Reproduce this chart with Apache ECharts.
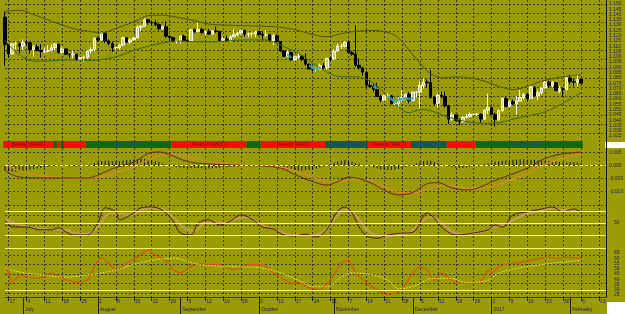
<!DOCTYPE html>
<html><head><meta charset="utf-8">
<script src="https://cdn.jsdelivr.net/npm/echarts/dist/echarts.min.js"></script>
<style>html,body{margin:0;padding:0;background:#9b9b05;}#c{width:625px;height:314px;}</style>
</head><body><div id="c"></div>
<script>
// ---- categories (trading days) ----
const jun16=[24,27,28,29,30];
const jul16=[1,4,5,6,7,8,11,12,13,14,15,18,19,20,21,22,25,26,27,28,29];
const aug16=[1,2,3,4,5,8,9,10,11,12,15,16,17,18,19,22,23,24,25,26,29,30,31];
const sep16=[1,2,5,6,7,8,9,12,13,14,15,16,19,20,21,22,23,26,27,28,29,30];
const oct16=[3,4,5,6,7,10,11,12,13,14,17,18,19,20,21,24,25,26,27,28,31];
const nov16=[1,2,3,4,7,8,9,10,11,14,15,16,17,18,21,22,23,24,25,28,29,30];
const dec16=[1,2,5,6,7,8,9,12,13,14,15,16,19,20,21,22,23,26,27,28,29,30];
const jan17=[2,3,4,5,6,9,10,11,12,13,16,17,18,19,20,23,24,25,26,27,30,31];
const feb17=[1,2,3,6,7,8,9,10,13,14,15];

// ---- tick labels ----
const weekTicks=[[1,'27'],[6,'4'],[11,'11'],[16,'18'],[21,'25'],[26,'1'],[31,'8'],[36,'15'],[41,'22'],[46,'29'],[51,'5'],[56,'12'],[61,'19'],[66,'26'],[71,'3'],[76,'10'],[81,'17'],[86,'24'],[91,'31'],[96,'7'],[101,'14'],[106,'21'],[111,'28'],[116,'5'],[121,'12'],[126,'19'],[131,'26'],[136,'2'],[141,'9'],[146,'16'],[151,'23'],[156,'30'],[161,'6'],[166,'13']];
const monthTicks=[[5,'July'],[26,'August'],[49,'September'],[71,'October'],[92,'November'],[114,'December'],[136,'2017'],[158,'February']];

// ---- price candles [open, close, low, high] ----
const candles=[
[1.1376,1.1117,1.0912,1.1427],[1.1117,1.1027,1.0990,1.1110],[1.1027,1.1122,1.1020,1.1127],[1.1122,1.1123,1.1070,1.1143],[1.1123,1.1103,1.1030,1.1140],
[1.1103,1.1135,1.1060,1.1165],[1.1135,1.1133,1.1105,1.1160],[1.1133,1.1070,1.1030,1.1140],[1.1070,1.1094,1.1000,1.1110],[1.1094,1.1060,1.1050,1.1120],
[1.1060,1.1050,1.0995,1.1120],[1.1050,1.1052,1.1030,1.1085],[1.1052,1.1061,1.1040,1.1110],[1.1061,1.1088,1.1060,1.1120],[1.1088,1.1120,1.1060,1.1130],
[1.1120,1.1040,1.1030,1.1125],[1.1040,1.1075,1.1030,1.1090],[1.1075,1.1025,1.1015,1.1080],[1.1025,1.1020,1.0990,1.1035],[1.1020,1.1025,1.0985,1.1060],
[1.1025,1.0975,1.0960,1.1030],[1.0975,1.0992,1.0970,1.1000],[1.0992,1.0995,1.0955,1.1010],[1.0995,1.1056,1.0980,1.1060],[1.1056,1.1069,1.1030,1.1090],
[1.1069,1.1174,1.1050,1.1185],[1.1174,1.1160,1.1150,1.1190],[1.1160,1.1225,1.1150,1.1235],[1.1225,1.1150,1.1130,1.1230],[1.1150,1.1125,1.1110,1.1165],
[1.1125,1.1085,1.1045,1.1145],[1.1085,1.1087,1.1065,1.1095],[1.1087,1.1111,1.1070,1.1125],[1.1111,1.1180,1.1100,1.1185],[1.1180,1.1140,1.1130,1.1185],
[1.1140,1.1160,1.1120,1.1175],[1.1160,1.1180,1.1150,1.1190],[1.1180,1.1280,1.1175,1.1300],[1.1280,1.1290,1.1245,1.1300],[1.1290,1.1350,1.1285,1.1366],
[1.1350,1.1325,1.1305,1.1355],[1.1325,1.1320,1.1290,1.1340],[1.1320,1.1307,1.1290,1.1350],[1.1307,1.1265,1.1250,1.1315],[1.1265,1.1285,1.1255,1.1295],
[1.1285,1.1196,1.1180,1.1340],[1.1196,1.1183,1.1150,1.1200],[1.1183,1.1146,1.1140,1.1190],[1.1146,1.1155,1.1125,1.1160],[1.1155,1.1195,1.1125,1.1200],
[1.1195,1.1155,1.1150,1.1210],[1.1155,1.1150,1.1135,1.1170],[1.1150,1.1255,1.1140,1.1265],[1.1255,1.1240,1.1225,1.1270],[1.1240,1.1260,1.1235,1.1325],
[1.1260,1.1230,1.1215,1.1275],[1.1230,1.1240,1.1205,1.1250],[1.1240,1.1215,1.1210,1.1265],[1.1215,1.1245,1.1210,1.1255],[1.1245,1.1240,1.1225,1.1285],
[1.1240,1.1155,1.1150,1.1245],[1.1155,1.1170,1.1150,1.1190],[1.1170,1.1155,1.1150,1.1200],[1.1155,1.1190,1.1140,1.1205],[1.1190,1.1210,1.1185,1.1260],
[1.1210,1.1225,1.1195,1.1240],[1.1225,1.1250,1.1210,1.1255],[1.1250,1.1213,1.1190,1.1260],[1.1213,1.1218,1.1185,1.1230],[1.1218,1.1220,1.1190,1.1240],
[1.1220,1.1240,1.1185,1.1245],[1.1240,1.1210,1.1200,1.1245],[1.1210,1.1205,1.1155,1.1240],[1.1205,1.1210,1.1185,1.1250],[1.1210,1.1155,1.1140,1.1215],
[1.1155,1.1200,1.1110,1.1215],[1.1200,1.1145,1.1135,1.1210],[1.1145,1.1055,1.1045,1.1150],[1.1055,1.1005,1.0995,1.1065],[1.1005,1.1040,1.1000,1.1060],
[1.1040,1.0970,1.0965,1.1050],[1.0970,1.1000,1.0960,1.1005],[1.1000,1.1005,1.0975,1.1035],[1.1005,1.0975,1.0960,1.1015],[1.0975,1.0930,1.0915,1.1035],
[1.0930,1.0885,1.0880,1.0935],[1.0885,1.0880,1.0860,1.0905],[1.0880,1.0880,1.0860,1.0900],[1.0880,1.0915,1.0870,1.0935],[1.0915,1.0895,1.0890,1.0940],
[1.0895,1.0985,1.0880,1.0990],[1.0985,1.0980,1.0955,1.0995],[1.0980,1.1055,1.0970,1.1070],[1.1055,1.1100,1.1050,1.1125],[1.1100,1.1100,1.1075,1.1125],
[1.1100,1.1140,1.1090,1.1145],[1.1140,1.1040,1.1030,1.1145],[1.1040,1.1025,1.1010,1.1055],[1.1025,1.0920,1.0905,1.1299],[1.0920,1.0895,1.0880,1.0985],
[1.0895,1.0855,1.0820,1.0905],[1.0855,1.0730,1.0710,1.0865],[1.0730,1.0720,1.0710,1.0780],[1.0720,1.0690,1.0665,1.0745],[1.0690,1.0625,1.0620,1.0755],
[1.0625,1.0590,1.0570,1.0640],[1.0590,1.0630,1.0580,1.0640],[1.0630,1.0630,1.0610,1.0655],[1.0630,1.0555,1.0550,1.0640],[1.0555,1.0555,1.0540,1.0580],
[1.0555,1.0590,1.0520,1.0615],[1.0590,1.0615,1.0575,1.0685],[1.0615,1.0645,1.0600,1.0655],[1.0645,1.0585,1.0560,1.0665],[1.0585,1.0665,1.0580,1.0670],
[1.0665,1.0665,1.0615,1.0675],[1.0665,1.0730,1.0505,1.0775],[1.0730,1.0760,1.0700,1.0795],[1.0760,1.0755,1.0715,1.0785],[1.0755,1.0615,1.0605,1.0874],
[1.0615,1.0560,1.0545,1.0630],[1.0560,1.0635,1.0520,1.0650],[1.0635,1.0625,1.0610,1.0670],[1.0625,1.0535,1.0520,1.0670],[1.0535,1.0410,1.0365,1.0545],
[1.0410,1.0450,1.0395,1.0475],[1.0450,1.0400,1.0390,1.0460],[1.0400,1.0385,1.0352,1.0415],[1.0385,1.0425,1.0375,1.0445],[1.0425,1.0435,1.0420,1.0460],
[1.0435,1.0455,1.0425,1.0470],[1.0455,1.0455,1.0445,1.0465],[1.0455,1.0455,1.0440,1.0470],[1.0455,1.0410,1.0375,1.0465],[1.0410,1.0495,1.0405,1.0500],
[1.0495,1.0520,1.0460,1.0650],[1.0520,1.0455,1.0450,1.0530],[1.0455,1.0405,1.0340,1.0470],[1.0405,1.0490,1.0395,1.0500],[1.0490,1.0605,1.0480,1.0615],
[1.0605,1.0530,1.0525,1.0620],[1.0530,1.0575,1.0520,1.0590],[1.0575,1.0555,1.0545,1.0595],[1.0555,1.0580,1.0455,1.0630],[1.0580,1.0615,1.0580,1.0685],
[1.0615,1.0645,1.0590,1.0655],[1.0645,1.0605,1.0580,1.0630],[1.0605,1.0715,1.0600,1.0720],[1.0715,1.0630,1.0625,1.0710],[1.0630,1.0660,1.0590,1.0680],
[1.0660,1.0705,1.0640,1.0710],[1.0705,1.0760,1.0700,1.0775],[1.0760,1.0730,1.0710,1.0775],[1.0730,1.0755,1.0710,1.0770],[1.0755,1.0680,1.0675,1.0760],
[1.0680,1.0695,1.0655,1.0725],[1.0695,1.0690,1.0620,1.0705],[1.0690,1.0800,1.0680,1.0810],[1.0800,1.0765,1.0740,1.0830],[1.0765,1.0760,1.0720,1.0790],
[1.0760,1.0785,1.0715,1.0830],[1.0785,1.0750,1.0745,1.0795]
];

// ---- Bollinger-type envelope [barIndex, price] ----
const upperBand=[[0,1.1430],[4,1.1440],[8,1.1400],[12,1.1350],[16,1.1300],[20,1.1260],[23,1.1245],[27,1.1225],[31,1.1270],[36,1.1330],[40,1.1390],[44,1.1395],[48,1.1375],[52,1.1350],[57,1.1310],[62,1.1300],[67,1.1295],[72,1.1290],[77,1.1280],[82,1.1250],[86,1.1210],[90,1.1190],[94,1.1220],[98,1.1240],[103,1.1250],[107,1.1230],[110,1.1180],[113,1.1060],[116,1.0940],[119,1.0840],[122,1.0800],[126,1.0810],[130,1.0800],[134,1.0770],[138,1.0720],[142,1.0690],[146,1.0720],[150,1.0770],[154,1.0800],[158,1.0820],[161,1.0830]];
const lowerBand=[[0,1.1150],[4,1.1020],[8,1.0960],[12,1.0960],[16,1.0970],[20,1.0970],[24,1.0965],[28,1.0980],[32,1.1010],[36,1.1060],[40,1.1100],[44,1.1130],[48,1.1150],[52,1.1145],[57,1.1140],[62,1.1150],[67,1.1160],[72,1.1160],[76,1.1130],[79,1.1080],[82,1.1036],[86,1.0940],[90,1.0856],[94,1.0810],[98,1.0810],[103,1.0750],[107,1.0620],[110,1.0525],[113,1.0470],[116,1.0500],[119,1.0490],[122,1.0450],[126,1.0410],[130,1.0380],[134,1.0370],[138,1.0375],[142,1.0410],[146,1.0440],[150,1.0468],[154,1.0525],[158,1.0600],[161,1.0660]];
const cyanSegs=[
 [[79,1.1020],[80,1.0990]],
 [[85,1.0920],[86,1.0895],[87,1.0885],[88,1.0890]],
 [[103,1.0720],[104,1.0700]],
 [[107,1.0630],[108,1.0600],[109,1.0580],[110,1.0590],[111,1.0600],[112,1.0610],[113,1.0600],[114,1.0610]]
];

// ---- signal strip [startBar, endBar, state 0=bear 1=bull 2=bull(teal)] ----
const bandSegs=[[0,13,0],[14,14,1],[15,15,0],[16,16,1],[17,22,0],[23,46,1],[47,67,0],[68,71,1],[72,89,0],[90,101,2],[102,113,0],[114,123,2],[124,131,0],[132,161,1]];
const bandText=['Bearish MACD','Bullish MACD','Bullish MACD'];

// ---- MACD panel ----
const macdHist=[
-0.0020,-0.0022,-0.0024,-0.0024,-0.0022,-0.0020,-0.0018,-0.0016,-0.0014,-0.0012,-0.0010,-0.0008,-0.0006,-0.0003,
0.0001,-0.0001,0.0001,
-0.0002,-0.0003,-0.0003,-0.0004,-0.0003,-0.0001,
0.0002,0.0005,0.0010,0.0014,0.0017,0.0018,0.0018,0.0016,0.0016,0.0017,0.0019,0.0020,0.0021,0.0023,0.0025,0.0026,0.0025,0.0023,0.0020,0.0017,0.0013,0.0009,0.0005,0.0002,
-0.0002,-0.0005,-0.0008,-0.0010,-0.0011,-0.0011,-0.0010,-0.0010,-0.0011,-0.0012,-0.0012,-0.0011,-0.0010,-0.0009,-0.0008,-0.0007,-0.0006,-0.0005,-0.0004,-0.0003,-0.0001,
0.0001,0.0002,0.0002,0.0001,
-0.0001,-0.0002,-0.0003,-0.0005,-0.0007,-0.0010,-0.0013,-0.0015,-0.0017,-0.0018,-0.0019,-0.0019,-0.0018,-0.0017,-0.0015,-0.0012,-0.0008,-0.0004,
0.0002,0.0006,0.0011,0.0016,0.0019,0.0021,0.0018,0.0014,0.0010,0.0007,0.0004,0.0001,
-0.0003,-0.0007,-0.0011,-0.0014,-0.0016,-0.0017,-0.0017,-0.0015,-0.0013,-0.0010,-0.0006,-0.0002,
0.0003,0.0008,0.0013,0.0017,0.0019,0.0018,0.0014,0.0010,0.0006,0.0002,
-0.0002,-0.0005,-0.0008,-0.0010,-0.0010,-0.0008,-0.0005,-0.0002,
0.0001,0.0003,0.0005,0.0008,0.0011,0.0014,0.0016,0.0018,0.0020,0.0021,0.0022,0.0023,0.0024,0.0024,0.0023,0.0022,0.0021,0.0020,0.0019,0.0018,0.0016,0.0015,0.0014,0.0013,0.0012,0.0012,0.0013,0.0013,0.0012,0.0011
];
const macdLine=[[0,-0.0017],[1,-0.0029],[4,-0.0044],[10,-0.0048],[17,-0.0048],[23,-0.0048],[26,-0.0037],[30,-0.0012],[36,0.0013],[40,0.0046],[43,0.0052],[46,0.0042],[51,0.0015],[57,0.0006],[62,0.0003],[67,0.0000],[72,-0.0002],[77,-0.0010],[81,-0.0035],[86,-0.0062],[90,-0.0075],[93,-0.0062],[96,-0.0045],[99,-0.0050],[103,-0.0072],[107,-0.0102],[110,-0.0113],[114,-0.0104],[118,-0.0070],[121,-0.0066],[125,-0.0086],[129,-0.0094],[132,-0.0088],[136,-0.0063],[141,-0.0037],[146,-0.0010],[150,0.0021],[154,0.0040],[158,0.0048],[161,0.0052]];
const macdSignal=[[0,0.0008],[3,-0.0015],[7,-0.0032],[12,-0.0043],[17,-0.0047],[22,-0.0048],[26,-0.0045],[30,-0.0032],[35,-0.0010],[40,0.0022],[44,0.0040],[48,0.0042],[52,0.0030],[57,0.0016],[62,0.0008],[67,0.0002],[72,-0.0001],[77,-0.0006],[81,-0.0020],[86,-0.0045],[90,-0.0062],[94,-0.0060],[98,-0.0052],[102,-0.0058],[107,-0.0088],[111,-0.0105],[115,-0.0104],[119,-0.0085],[123,-0.0075],[127,-0.0083],[131,-0.0090],[135,-0.0084],[139,-0.0068],[143,-0.0048],[147,-0.0024],[151,0.0004],[155,0.0025],[158,0.0036],[161,0.0042]];

// ---- Stochastic panel ----
const stochK=[[0,57],[2,40],[6,40],[10,33],[13,33],[15,38],[17,28],[19,20],[23,20],[26,52],[28,88],[31,78],[32,58],[36,75],[38,88],[41,90],[44,82],[47,55],[49,25],[52,20],[54,50],[57,58],[60,45],[63,55],[66,70],[69,60],[72,40],[75,35],[78,20],[81,18],[84,22],[87,15],[90,35],[93,80],[95,90],[97,75],[99,40],[101,18],[104,12],[107,20],[110,24],[114,27],[118,75],[120,62],[122,40],[126,20],[131,25],[135,33],[137,45],[139,40],[142,70],[146,78],[150,85],[153,90],[156,78],[159,85],[161,78]];
const stochD=[[0,60],[3,48],[7,40],[11,35],[14,34],[17,32],[20,24],[23,22],[26,40],[29,72],[32,72],[35,70],[38,82],[41,88],[44,85],[47,65],[50,38],[53,30],[56,50],[59,50],[62,52],[65,62],[68,64],[71,48],[74,38],[77,28],[80,20],[83,20],[86,18],[89,28],[92,60],[95,82],[98,70],[101,35],[104,18],[107,17],[110,22],[113,26],[116,50],[119,65],[122,50],[125,28],[128,22],[131,25],[134,30],[137,40],[140,48],[143,62],[146,74],[150,82],[153,87],[156,82],[159,82],[161,80]];

// ---- RSI panel ----
const rsiLine=[[0,52],[1,46],[2,36],[4,44],[8,41],[11,42],[13,46],[16,41],[20,37],[23,39],[25,52],[27,61],[28,58],[31,49],[34,55],[37,61],[40,68],[42,63],[45,58],[47,49],[49,46],[52,52],[55,55],[57,54],[60,54],[64,49],[68,54],[72,54],[75,46],[77,42],[80,36],[82,37],[85,32],[88,30],[92,44],[94,56],[96,58],[98,46],[101,37],[104,30],[107,25],[110,28],[112,35],[114,46],[116,52],[118,49],[120,39],[122,46],[124,41],[127,36],[130,36],[133,37],[135,49],[136,46],[138,52],[141,55],[144,56],[147,58],[150,60],[152,61],[154,60],[157,61],[160,60],[161,60]];
const rsiAvg=[[0,51],[4,47],[11,44],[17,42],[23,44],[27,46],[31,49],[36,54],[41,58],[47,60],[53,55],[57,53],[64,52],[71,51],[77,46],[82,39],[86,33],[90,33],[94,42],[97,46],[103,44],[107,39],[110,31],[114,33],[120,41],[124,41],[129,37],[135,39],[138,46],[144,51],[150,54],[155,56],[161,58]];

// ================= build =================
const months=[['2016-06',jun16],['2016-07',jul16],['2016-08',aug16],['2016-09',sep16],['2016-10',oct16],['2016-11',nov16],['2016-12',dec16],['2017-01',jan17],['2017-02',feb17]];
const cats=[];
months.forEach(([m,ds])=>ds.forEach(d=>cats.push(m+'-'+String(d).padStart(2,'0'))));
const weekMap={}; weekTicks.forEach(([i,l])=>weekMap[i]=l);
const monthMap={}; monthTicks.forEach(([i,l])=>monthMap[i]=l);

const BG='#9b9b05', GRIDC='rgba(0,0,0,0.6)', LBL='#23234a';
const L=5, W=601;
const grids=[
 {top:-1.28,height:142.56},  //0 main
 {top:141,height:7},         //1 strip
 {top:139.5,height:65},      //2 macd
 {top:203,height:40},        //3 stoch
 {top:242.5,height:52.5},    //4 rsi
 {top:0,height:297},         //5 verticals + day labels
 {top:4,height:129.36},      //6 main horizontal grid
 {top:152.5,height:39},      //7 macd grid
 {top:205,height:30},        //8 stoch grid
 {top:255,height:38},        //9 rsi grid
 {top:0,height:297}          //10 month labels
].map(g=>Object.assign({left:L,width:W,outerBoundsMode:'none',containLabel:false},g));

const hidX=g=>({type:'category',gridIndex:g,data:cats,boundaryGap:false,show:false});
const xAxes=[hidX(0),hidX(1),hidX(2),hidX(3),hidX(4),
 {type:'category',gridIndex:5,data:cats,boundaryGap:false,position:'bottom',
  axisLine:{show:true,lineStyle:{color:'#3a3a20',width:1}},
  axisTick:{show:true,interval:(i)=>weekMap[i]!==undefined,length:4,lineStyle:{color:'#202020'}},
  axisLabel:{show:true,interval:(i)=>weekMap[i]!==undefined,formatter:(v,i)=>weekMap[i]||'',fontSize:5,color:LBL,align:'left',margin:2,padding:[0,0,0,1]},
  splitLine:{show:true,interval:(i)=>weekMap[i]!==undefined,lineStyle:{color:GRIDC,type:[2,2],width:1}}},
 hidX(6),hidX(7),hidX(8),hidX(9),
 {type:'category',gridIndex:10,data:cats,boundaryGap:false,position:'bottom',
  axisLine:{show:false},
  axisTick:{show:true,interval:(i)=>monthMap[i]!==undefined,length:17,lineStyle:{color:'#202020'}},
  axisLabel:{show:true,interval:(i)=>monthMap[i]!==undefined,formatter:(v,i)=>monthMap[i]||'',fontSize:5,color:LBL,align:'left',margin:10,padding:[0,0,0,2]},
  splitLine:{show:false}}
];
const noLine={axisLine:{show:false},axisTick:{show:false},splitLine:{show:false}};
const helperY=(g,n)=>({type:'value',gridIndex:g,min:0,max:n,interval:1,axisLine:{show:false},axisTick:{show:false},axisLabel:{show:false},splitLine:{show:true,lineStyle:{color:GRIDC,type:[2,2],width:1}}});
const yAxes=[
 Object.assign({type:'value',gridIndex:0,position:'right',min:1.020,max:1.155,interval:0.005,
  axisLabel:{fontSize:5,color:LBL,margin:3,formatter:v=>(v>1.1525||v<1.0225)?'':v.toFixed(3)}},noLine),
 Object.assign({type:'value',gridIndex:1,min:0,max:1,axisLabel:{show:false}},noLine),
 Object.assign({type:'value',gridIndex:2,position:'right',min:-0.015,max:0.010,interval:0.005,
  axisLabel:{fontSize:5,color:LBL,margin:3,formatter:v=>(v>0.0075||v<-0.0125)?'':v.toFixed(3)}},noLine),
 Object.assign({type:'value',gridIndex:3,position:'right',min:0,max:100,interval:50,
  axisLabel:{fontSize:5,color:LBL,margin:8,formatter:v=>v===50?'50':''}},noLine),
 Object.assign({type:'value',gridIndex:4,position:'right',min:25,max:75,interval:5,
  axisLabel:{fontSize:5,color:LBL,margin:8,formatter:v=>v>67?'':String(v)}},noLine),
 {type:'value',gridIndex:5,position:'right',min:0,max:1,axisLine:{show:true,lineStyle:{color:'#14143a',width:1}},axisTick:{show:false},axisLabel:{show:false},splitLine:{show:false}},
 helperY(6,14),helperY(7,3),helperY(8,3),helperY(9,4),
 Object.assign({type:'value',gridIndex:10,min:0,max:1,axisLabel:{show:false}},noLine)
];

const line=(xi,data,color,width,extra)=>Object.assign({type:'line',xAxisIndex:xi,yAxisIndex:xi,data,symbol:'none',smooth:0.35,silent:true,lineStyle:{color,width}},extra||{});

const bandFill=['#ff0a0a','#0b6a14','#0c5c48'];
const bandTextColor=['#7a0e0e','#2a44a8','#2a44a8'];

const series=[
 {type:'candlestick',xAxisIndex:0,yAxisIndex:0,data:candles,barWidth:3,clip:false,silent:true,
  itemStyle:{color:'#cfcf80',color0:'#000000',borderColor:'#fafae4',borderColor0:'#000000',borderWidth:1}},
 line(0,upperBand,'#4e5412',1),
 line(0,lowerBand,'#3d6614',1),
 ...cyanSegs.map(s=>line(0,s,'#3aa6ba',2.5,{smooth:0.2,z:3,lineStyle:{color:'#3aa6ba',width:2.5,opacity:0.85}})),
 {type:'custom',xAxisIndex:1,yAxisIndex:1,data:bandSegs,encode:{x:[0,1]},silent:true,
  renderItem:(params,api)=>{
   const s=api.coord([api.value(0),0.5]), e=api.coord([api.value(1),0.5]);
   const w=api.size([1,0])[0]; const cs=params.coordSys;
   const x1=s[0]-w/2, x2=e[0]+w/2, t=api.value(2);
   const ch=[{type:'rect',shape:{x:x1,y:cs.y,width:x2-x1,height:cs.height},style:{fill:bandFill[t]}}];
   if(api.value(1)-api.value(0)>=9) ch.push({type:'text',style:{text:bandText[t],x:(x1+x2)/2,y:cs.y+cs.height/2,fill:bandTextColor[t],fontSize:5,fontFamily:'Liberation Sans, Arial',align:'center',verticalAlign:'middle',textAlign:'center',textVerticalAlign:'middle'}});
   return {type:'group',children:ch};
  }},
 {type:'bar',xAxisIndex:2,yAxisIndex:2,data:macdHist,barWidth:1,silent:true,itemStyle:{color:'#111111'},
  markLine:{silent:true,symbol:'none',label:{show:false},lineStyle:{color:'#fafae6',type:[3,2],width:1},data:[{yAxis:0}]}},
 line(2,macdSignal,'#cf8a34',1.4),
 line(2,macdLine,'#6a2a0c',1),
 line(3,stochD,'#bf9a5a',2.2,{markLine:{silent:true,symbol:'none',label:{show:false},lineStyle:{color:'#ececc4',type:'solid',width:1},data:[{yAxis:20},{yAxis:50},{yAxis:80}]}}),
 line(3,stochK,'#4a1e08',1),
 line(4,rsiLine,'#d2560e',1.2,{smooth:0.15,markLine:{silent:true,symbol:'none',label:{show:false},lineStyle:{color:'#f4f470',type:'solid',width:1.2},data:[{yAxis:30},{yAxis:70}]}}),
 line(4,rsiAvg,'#f2f040',1,{lineStyle:{color:'#f2f040',width:1,type:[1.5,1.5]}})
];

const chart=echarts.init(document.getElementById('c'),null,{renderer:'canvas'});
chart.setOption({
 animation:false,
 backgroundColor:BG,
 textStyle:{fontFamily:'Liberation Sans, Arial, sans-serif'},
 grid:grids, xAxis:xAxes, yAxis:yAxes, series,
 graphic:[
  {type:'rect',shape:{x:605,y:142,width:20,height:6},style:{fill:'#ffffff'},silent:true},
  {type:'rect',shape:{x:607,y:302,width:18,height:12},style:{fill:'#ffffff'},silent:true}
 ]
});
</script></body></html>
